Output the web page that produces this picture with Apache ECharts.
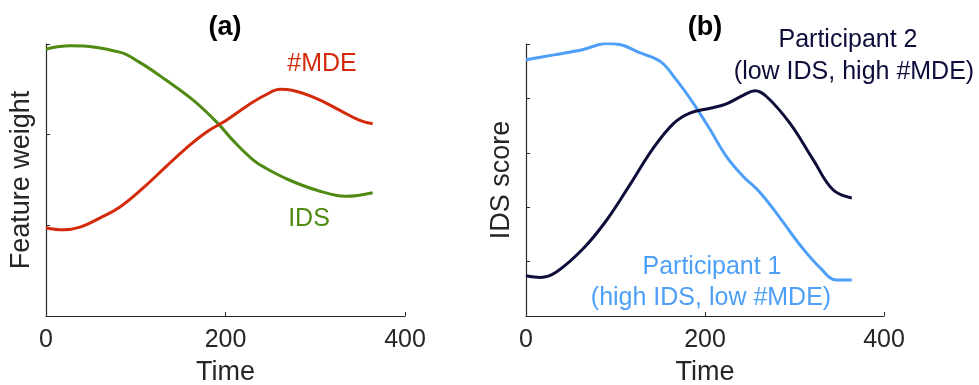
<!DOCTYPE html>
<html>
<head>
<meta charset="utf-8">
<script src="https://cdn.jsdelivr.net/npm/echarts@6/dist/echarts.min.js"></script>
<style>
  html, body { margin: 0; padding: 0; background: #fff; }
  #chart { width: 979px; height: 385px; }
</style>
</head>
<body>
<div id="chart"></div>
<script>
// Panel (a): feature weights over time
const idsTime = [0, 27, 82, 104, 134, 164, 191, 208, 231, 245, 271, 301, 334, 364];
const idsWeight = [2.945, 2.98, 2.91, 2.80, 2.60, 2.38, 2.13, 1.94, 1.72, 1.63, 1.50, 1.39, 1.32, 1.36];
const mdeTime = [0, 19, 38, 60, 82, 108, 134, 156, 179, 201, 226, 245, 261, 274, 301, 327, 349, 364];
const mdeWeight = [0.97, 0.95, 0.98, 1.08, 1.20, 1.41, 1.65, 1.85, 2.03, 2.16, 2.33, 2.44, 2.50, 2.49, 2.40, 2.27, 2.16, 2.12];

// Panel (b): IDS score of two participants over time
const p1Time = [0, 31, 64, 90, 105, 127, 150, 168, 187, 206, 224, 243, 261, 284, 306, 329, 347, 364];
const p1Score = [4.71, 4.80, 4.90, 5.01, 4.99, 4.84, 4.68, 4.34, 3.91, 3.42, 2.93, 2.56, 2.28, 1.80, 1.31, 0.88, 0.66, 0.66];
const p2Time = [0, 16, 34, 64, 90, 116, 142, 165, 183, 206, 224, 243, 256, 269, 295, 321, 343, 364];
const p2Score = [0.74, 0.71, 0.81, 1.24, 1.76, 2.41, 3.08, 3.54, 3.73, 3.82, 3.90, 4.06, 4.14, 4.03, 3.54, 2.87, 2.32, 2.17];

const timeTicks = [0, 200, 400];

const FONT = '"Liberation Sans", Arial, Helvetica, sans-serif';
const AXIS_COLOR = '#262626';
const RED = '#d42a0c';
const GREEN = '#4f8a12';
const LIGHT_BLUE = '#4d9ff8';
const NAVY = '#0d0d3b';

function zip(xs, ys) { return xs.map((x, i) => [x, ys[i]]); }

function xAxisDef(gridIndex) {
  return {
    type: 'value', gridIndex,
    min: timeTicks[0], max: timeTicks[timeTicks.length - 1],
    interval: timeTicks[1] - timeTicks[0],
    name: 'Time', nameLocation: 'middle', nameGap: 43,
    nameTextStyle: { fontFamily: FONT, fontSize: 27, color: AXIS_COLOR },
    axisLine: { show: true, onZero: false, lineStyle: { color: AXIS_COLOR, width: 1.2 } },
    axisTick: { show: true, inside: true, length: 4, lineStyle: { color: AXIS_COLOR } },
    axisLabel: { fontFamily: FONT, fontSize: 25, color: AXIS_COLOR, margin: 12 },
    splitLine: { show: false }
  };
}

function yAxisDef(gridIndex, name, max) {
  return {
    type: 'value', gridIndex, min: 0, max, interval: 1,
    name, nameLocation: 'middle', nameGap: 11,
    nameTextStyle: { fontFamily: FONT, fontSize: 27, color: AXIS_COLOR },
    axisLine: { show: true, lineStyle: { color: AXIS_COLOR, width: 1.2 } },
    axisTick: { show: true, inside: true, length: 4, lineStyle: { color: AXIS_COLOR } },
    axisLabel: { show: false },
    splitLine: { show: false }
  };
}

function lineSeries(xi, yi, data, color) {
  return {
    type: 'line', xAxisIndex: xi, yAxisIndex: yi, data,
    smooth: 0.4, showSymbol: false, silent: true,
    lineStyle: { color, width: 3 }
  };
}

function label(x, y, text, color) {
  return {
    type: 'text', x, y,
    style: { text, fill: color, font: '25px ' + FONT, align: 'center', verticalAlign: 'middle' }
  };
}

const chart = echarts.init(document.getElementById('chart'), null, { renderer: 'canvas' });
chart.setOption({
  animation: false,
  backgroundColor: '#ffffff',
  title: [
    { text: '(a)', left: 220, top: 23, textAlign: 'center', textVerticalAlign: 'middle',
      textStyle: { fontFamily: FONT, fontSize: 27, fontWeight: 'bold', color: '#000' } },
    { text: '(b)', left: 700, top: 23, textAlign: 'center', textVerticalAlign: 'middle',
      textStyle: { fontFamily: FONT, fontSize: 27, fontWeight: 'bold', color: '#000' } }
  ],
  grid: [
    { left: 46, top: 44, width: 359, height: 272, containLabel: false, outerBoundsMode: 'none' },
    { left: 526, top: 44, width: 358, height: 272, containLabel: false, outerBoundsMode: 'none' }
  ],
  xAxis: [xAxisDef(0), xAxisDef(1)],
  yAxis: [yAxisDef(0, 'Feature weight', 3), yAxisDef(1, 'IDS score', 5)],
  series: [
    lineSeries(0, 0, zip(idsTime, idsWeight), GREEN),
    lineSeries(0, 0, zip(mdeTime, mdeWeight), RED),
    lineSeries(1, 1, zip(p1Time, p1Score), LIGHT_BLUE),
    lineSeries(1, 1, zip(p2Time, p2Score), NAVY)
  ],
  graphic: [
    label(322, 64, '#MDE', RED),
    label(309, 219, 'IDS', GREEN),
    label(848, 40, 'Participant 2', NAVY),
    label(854, 72, '(low IDS, high #MDE)', NAVY),
    label(712, 267, 'Participant 1', LIGHT_BLUE),
    label(711, 298, '(high IDS, low #MDE)', LIGHT_BLUE)
  ]
});
</script>
</body>
</html>
